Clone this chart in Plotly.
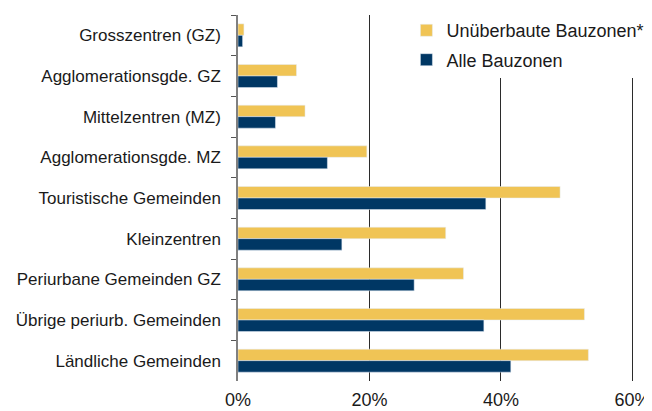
import plotly.graph_objects as go

# Gemeindetypen, top to bottom
categories = [
    "Grosszentren (GZ)",
    "Agglomerationsgde. GZ",
    "Mittelzentren (MZ)",
    "Agglomerationsgde. MZ",
    "Touristische Gemeinden",
    "Kleinzentren",
    "Periurbane Gemeinden GZ",
    "Übrige periurb. Gemeinden",
    "Ländliche Gemeinden",
]

# shares in percent
unueberbaut = [0.9, 8.9, 10.2, 19.6, 49.0, 31.6, 34.3, 52.7, 53.3]
alle = [0.7, 6.0, 5.7, 13.6, 37.7, 15.8, 26.8, 37.4, 41.5]

x_ticks = [0, 20, 40, 60]
x_tick_labels = ["0%", "20%", "40%", "60%"]

YELLOW = "#F0C455"
BLUE = "#003764"
FONT = "Liberation Sans, Arial, Helvetica, sans-serif"

fig = go.Figure()
fig.add_trace(go.Bar(
    y=categories, x=unueberbaut, orientation="h",
    name="Unüberbaute Bauzonen*", marker_color=YELLOW,
    legendgroup="a",
))
fig.add_trace(go.Bar(
    y=categories, x=alle, orientation="h",
    name="Alle Bauzonen", marker_color=BLUE,
    legendgroup="b",
))

# page body has an 8px margin, so the figure is a bit smaller than the window
fig.update_layout(
    width=644, height=403,
    margin=dict(l=230, r=13, t=7, b=30, autoexpand=False),
    barmode="group", bargap=0.435, bargroupgap=0,
    plot_bgcolor="white", paper_bgcolor="white",
    font=dict(family=FONT, size=17, color="#1a1a1a"),
    legend=dict(
        x=0.42, y=1.008, xanchor="left", yanchor="top",
        bgcolor="white", traceorder="grouped", tracegroupgap=3,
        font=dict(size=18), itemwidth=30,
    ),
    xaxis=dict(
        range=[0, 61], tickvals=x_ticks, ticktext=x_tick_labels,
        showgrid=True, gridcolor="#2b2b2b", gridwidth=1.2,
        zeroline=False, showline=False, ticks="",
        tickfont=dict(size=18), automargin=False, ticklabelstandoff=6,
    ),
    yaxis=dict(
        autorange="reversed", showline=True, linecolor="#808080",
        linewidth=1.5, ticks="outside", tickson="boundaries",
        ticklen=5, tickcolor="#555555", tickwidth=1.2,
        showgrid=False, ticklabelstandoff=12, automargin=False,
    ),
)

fig.write_html("out.html")
